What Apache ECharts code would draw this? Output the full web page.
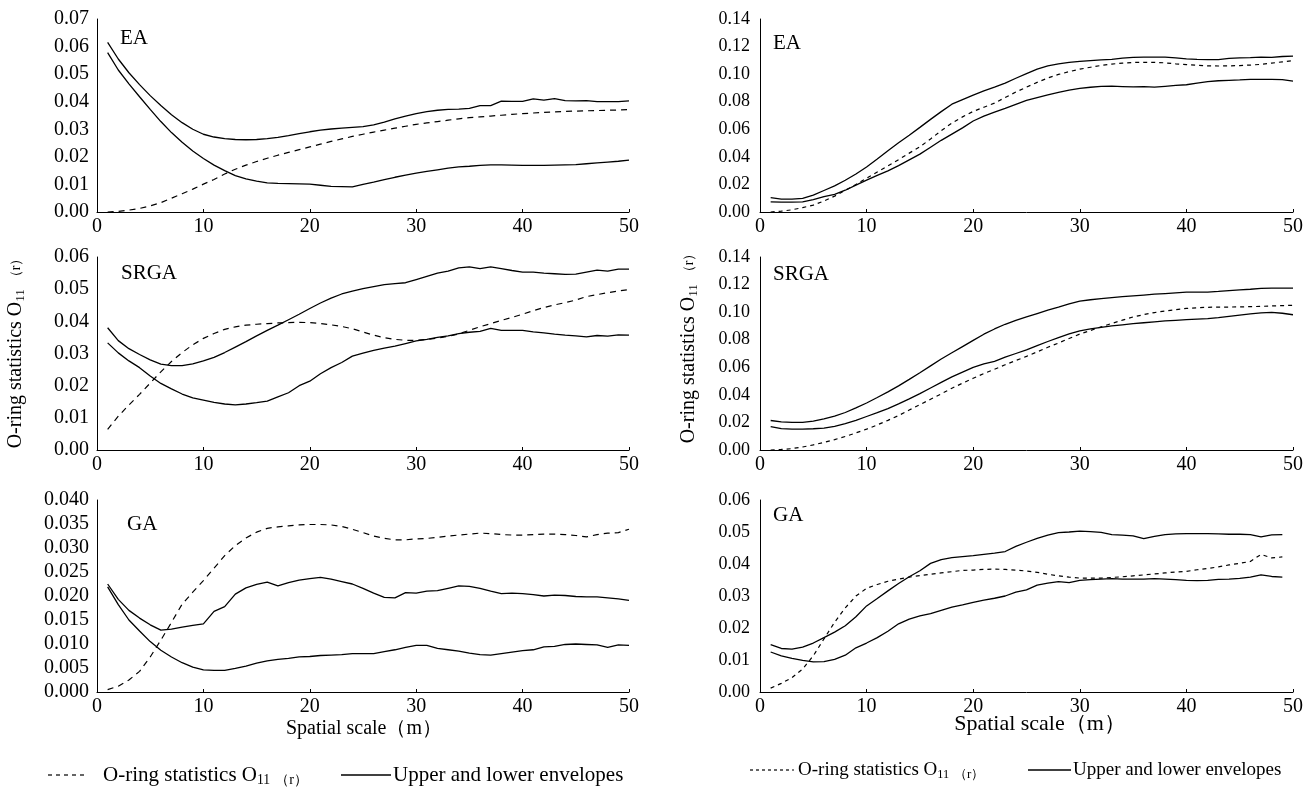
<!DOCTYPE html>
<html>
<head>
<meta charset="utf-8">
<script src="https://cdn.jsdelivr.net/npm/echarts@6/dist/echarts.min.js"></script>
<style>
html, body { margin: 0; padding: 0; background: #fff; }
#main { width: 1315px; height: 794px; }
</style>
</head>
<body>
<div id="main"></div>
<script>
// spatial scale r (m)
var scale = [1,2,3,4,5,6,7,8,9,10,11,12,13,14,15,16,17,18,19,20,21,22,23,24,25,
             26,27,28,29,30,31,32,33,34,35,36,37,38,39,40,41,42,43,44,45,46,47,48,49,50];

// left column, EA
var eaObsL = [0.0000,0.0002,0.0007,0.0013,0.0022,0.0034,0.0050,0.0066,0.0083,0.0101,0.0118,0.0138,0.0155,0.0170,0.0183,0.0195,0.0206,0.0216,0.0226,0.0236,0.0246,0.0256,0.0265,0.0274,0.0282,
              0.0290,0.0297,0.0304,0.0311,0.0318,0.0323,0.0328,0.0333,0.0338,0.0342,0.0345,0.0348,0.0351,0.0354,0.0357,0.0359,0.0361,0.0363,0.0365,0.0366,0.0367,0.0368,0.0369,0.0370,0.0372];
var eaUpL = [0.0615,0.0555,0.0505,0.0462,0.0422,0.0386,0.0353,0.0324,0.0300,0.0282,0.0272,0.0266,0.0263,0.0262,0.0263,0.0266,0.0271,0.0277,0.0284,0.0291,0.0297,0.0301,0.0304,0.0307,0.0310,
             0.0316,0.0326,0.0338,0.0348,0.0357,0.0364,0.0369,0.0372,0.0373,0.0376,0.0386,0.0386,0.0402,0.0401,0.0401,0.0410,0.0406,0.0411,0.0404,0.0403,0.0404,0.0400,0.0400,0.0400,0.0403];
var eaLowL = [0.0578,0.0515,0.0465,0.0418,0.0372,0.0328,0.0288,0.0253,0.0221,0.0194,0.0170,0.0150,0.0132,0.0120,0.0112,0.0106,0.0104,0.0103,0.0102,0.0101,0.0097,0.0093,0.0092,0.0091,0.0100,
              0.0108,0.0117,0.0126,0.0134,0.0141,0.0147,0.0153,0.0159,0.0164,0.0166,0.0169,0.0171,0.0171,0.0170,0.0169,0.0169,0.0169,0.0170,0.0171,0.0172,0.0175,0.0178,0.0181,0.0184,0.0188];

// left column, SRGA
var srgaObsL = [0.0064,0.0105,0.0140,0.0173,0.0208,0.0243,0.0275,0.0303,0.0327,0.0347,0.0362,0.0375,0.0383,0.0388,0.0391,0.0393,0.0395,0.0396,0.0397,0.0396,0.0393,0.0389,0.0384,0.0377,0.0367,
                0.0357,0.0349,0.0344,0.0341,0.0341,0.0344,0.0348,0.0353,0.0361,0.0372,0.0383,0.0393,0.0403,0.0412,0.0422,0.0433,0.0443,0.0451,0.0458,0.0466,0.0477,0.0483,0.0489,0.0494,0.0499];
var srgaUpL = [0.0380,0.0340,0.0315,0.0297,0.0280,0.0267,0.0262,0.0262,0.0268,0.0277,0.0288,0.0303,0.0320,0.0337,0.0355,0.0372,0.0388,0.0405,0.0422,0.0440,0.0457,0.0472,0.0485,0.0494,0.0502,
               0.0508,0.0514,0.0517,0.0520,0.0530,0.0540,0.0550,0.0556,0.0566,0.0569,0.0564,0.0569,0.0564,0.0558,0.0553,0.0553,0.0550,0.0548,0.0546,0.0547,0.0553,0.0559,0.0556,0.0562,0.0562];
var srgaLowL = [0.0333,0.0302,0.0277,0.0256,0.0230,0.0207,0.0190,0.0174,0.0162,0.0155,0.0148,0.0143,0.0140,0.0143,0.0147,0.0152,0.0165,0.0178,0.0200,0.0214,0.0237,0.0256,0.0272,0.0292,0.0301,
                0.0310,0.0317,0.0323,0.0331,0.0339,0.0344,0.0350,0.0355,0.0362,0.0366,0.0369,0.0378,0.0372,0.0372,0.0372,0.0367,0.0364,0.0360,0.0357,0.0355,0.0352,0.0356,0.0354,0.0358,0.0357];

// left column, GA
var gaObsL = [0.0005,0.0012,0.0025,0.0043,0.0073,0.0108,0.0145,0.0183,0.0208,0.0232,0.0258,0.0284,0.0305,0.0321,0.0333,0.0341,0.0344,0.0346,0.0348,0.0349,0.0349,0.0348,0.0345,0.0339,0.0332,
              0.0325,0.0320,0.0317,0.0317,0.0319,0.0320,0.0322,0.0325,0.0327,0.0329,0.0331,0.0330,0.0328,0.0327,0.0327,0.0328,0.0329,0.0329,0.0328,0.0326,0.0323,0.0328,0.0331,0.0332,0.0339];
var gaUpL = [0.0225,0.0193,0.0170,0.0154,0.0140,0.0129,0.0131,0.0135,0.0139,0.0142,0.0168,0.0178,0.0204,0.0217,0.0224,0.0229,0.0221,0.0228,0.0233,0.0236,0.0239,0.0235,0.0230,0.0225,0.0216,
             0.0206,0.0197,0.0196,0.0207,0.0206,0.0210,0.0211,0.0216,0.0221,0.0220,0.0216,0.0210,0.0205,0.0206,0.0205,0.0203,0.0200,0.0202,0.0201,0.0199,0.0198,0.0198,0.0196,0.0194,0.0191];
var gaLowL = [0.0219,0.0182,0.0150,0.0127,0.0105,0.0087,0.0073,0.0061,0.0052,0.0046,0.0045,0.0045,0.0049,0.0054,0.0060,0.0065,0.0068,0.0070,0.0073,0.0074,0.0076,0.0077,0.0078,0.0080,0.0080,
              0.0080,0.0084,0.0088,0.0093,0.0097,0.0097,0.0091,0.0088,0.0085,0.0081,0.0078,0.0077,0.0080,0.0083,0.0086,0.0088,0.0094,0.0095,0.0099,0.0100,0.0099,0.0098,0.0093,0.0098,0.0097];

// right column, EA
var eaObsR = [0.0000,0.0006,0.0016,0.0032,0.0050,0.0080,0.0115,0.0157,0.0200,0.0245,0.0290,0.0335,0.0380,0.0427,0.0473,0.0530,0.0590,0.0645,0.0690,0.0730,0.0760,0.0790,0.0830,0.0870,0.0906,
              0.0940,0.0972,0.0998,0.1018,0.1036,0.1050,0.1063,0.1073,0.1080,0.1085,0.1086,0.1085,0.1082,0.1075,0.1069,0.1064,0.1060,0.1059,0.1060,0.1062,0.1066,0.1071,0.1080,0.1089,0.1098];
var eaUpR = [0.0105,0.0094,0.0094,0.0099,0.0122,0.0156,0.0189,0.0230,0.0276,0.0327,0.0385,0.0445,0.0502,0.0557,0.0614,0.0672,0.0728,0.0782,0.0815,0.0848,0.0878,0.0906,0.0935,0.0970,0.1004,
             0.1036,0.1060,0.1075,0.1085,0.1092,0.1098,0.1103,0.1107,0.1116,0.1121,0.1123,0.1124,0.1123,0.1118,0.1111,0.1107,0.1105,0.1106,0.1115,0.1118,0.1120,0.1124,0.1122,0.1128,0.1130];
var eaLowR = [0.0073,0.0071,0.0071,0.0074,0.0090,0.0111,0.0128,0.0158,0.0195,0.0231,0.0265,0.0298,0.0336,0.0378,0.0420,0.0470,0.0520,0.0565,0.0610,0.0660,0.0695,0.0724,0.0752,0.0781,0.0809,
              0.0830,0.0850,0.0868,0.0884,0.0897,0.0905,0.0911,0.0913,0.0910,0.0907,0.0910,0.0906,0.0912,0.0918,0.0923,0.0935,0.0945,0.0952,0.0955,0.0958,0.0962,0.0962,0.0962,0.0960,0.0949];

// right column, SRGA
var srgaObsR = [0.0000,0.0004,0.0010,0.0022,0.0037,0.0055,0.0075,0.0098,0.0124,0.0151,0.0182,0.0215,0.0250,0.0290,0.0329,0.0368,0.0407,0.0448,0.0485,0.0520,0.0555,0.0586,0.0618,0.0649,0.0679,
                0.0712,0.0745,0.0776,0.0809,0.0841,0.0867,0.0893,0.0918,0.0942,0.0965,0.0982,0.0997,0.1008,0.1018,0.1027,0.1032,0.1035,0.1037,0.1037,0.1038,0.1040,0.1042,0.1045,0.1047,0.1050];
var srgaUpR = [0.0214,0.0204,0.0200,0.0200,0.0210,0.0225,0.0245,0.0272,0.0305,0.0341,0.0381,0.0422,0.0465,0.0512,0.0560,0.0610,0.0660,0.0705,0.0750,0.0795,0.0840,0.0878,0.0912,0.0940,0.0965,
               0.0990,0.1015,0.1037,0.1060,0.1080,0.1090,0.1098,0.1105,0.1112,0.1118,0.1124,0.1130,0.1135,0.1140,0.1145,0.1145,0.1145,0.1150,0.1156,0.1161,0.1166,0.1172,0.1174,0.1174,0.1174];
var srgaLowR = [0.0170,0.0155,0.0151,0.0151,0.0154,0.0159,0.0172,0.0192,0.0215,0.0243,0.0271,0.0300,0.0334,0.0371,0.0409,0.0450,0.0490,0.0530,0.0565,0.0600,0.0625,0.0643,0.0673,0.0700,0.0727,
                0.0757,0.0787,0.0815,0.0842,0.0864,0.0878,0.0890,0.0900,0.0908,0.0916,0.0923,0.0930,0.0936,0.0941,0.0946,0.0950,0.0953,0.0960,0.0970,0.0979,0.0988,0.0995,0.0998,0.0992,0.0981];

// right column, GA (ends at r = 49)
var gaObsR = [0.0012,0.0027,0.0045,0.0072,0.0113,0.0166,0.0218,0.0263,0.0300,0.0324,0.0336,0.0346,0.0353,0.0359,0.0364,0.0368,0.0372,0.0376,0.0380,0.0381,0.0383,0.0384,0.0383,0.0381,0.0378,
              0.0374,0.0368,0.0363,0.0359,0.0356,0.0356,0.0356,0.0358,0.0360,0.0363,0.0366,0.0369,0.0372,0.0375,0.0377,0.0382,0.0386,0.0391,0.0397,0.0402,0.0408,0.0430,0.0419,0.0422];
var gaUpR = [0.0148,0.0136,0.0134,0.0140,0.0153,0.0170,0.0187,0.0207,0.0235,0.0269,0.0292,0.0316,0.0339,0.0360,0.0379,0.0402,0.0414,0.0420,0.0423,0.0426,0.0430,0.0434,0.0439,0.0455,0.0468,
             0.0480,0.0490,0.0498,0.0500,0.0503,0.0501,0.0499,0.0492,0.0490,0.0488,0.0479,0.0486,0.0492,0.0494,0.0495,0.0495,0.0495,0.0494,0.0493,0.0493,0.0492,0.0485,0.0491,0.0492];
var gaLowR = [0.0125,0.0113,0.0105,0.0099,0.0094,0.0095,0.0102,0.0115,0.0138,0.0153,0.0170,0.0190,0.0213,0.0228,0.0238,0.0245,0.0255,0.0265,0.0272,0.0280,0.0287,0.0293,0.0300,0.0312,0.0319,
              0.0334,0.0340,0.0345,0.0342,0.0349,0.0351,0.0353,0.0354,0.0353,0.0353,0.0353,0.0354,0.0353,0.0351,0.0349,0.0348,0.0349,0.0352,0.0353,0.0355,0.0359,0.0366,0.0361,0.0359];

var FONT = '"Liberation Serif", "Times New Roman", serif';

var panels = [
    {name: 'EA',   obs: eaObsL,   up: eaUpL,   low: eaLowL,   max: 0.07, step: 0.01,  dec: 2, col: 0, row: 0},
    {name: 'SRGA', obs: srgaObsL, up: srgaUpL, low: srgaLowL, max: 0.06, step: 0.01,  dec: 2, col: 0, row: 1},
    {name: 'GA',   obs: gaObsL,   up: gaUpL,   low: gaLowL,   max: 0.04, step: 0.005, dec: 3, col: 0, row: 2},
    {name: 'EA',   obs: eaObsR,   up: eaUpR,   low: eaLowR,   max: 0.14, step: 0.02,  dec: 2, col: 1, row: 0},
    {name: 'SRGA', obs: srgaObsR, up: srgaUpR, low: srgaLowR, max: 0.14, step: 0.02,  dec: 2, col: 1, row: 1},
    {name: 'GA',   obs: gaObsR,   up: gaUpR,   low: gaLowR,   max: 0.06, step: 0.01,  dec: 2, col: 1, row: 2}
];

var colLeft = [97, 760];
var colWidth = [532, 533];
var rowTop = [19, 257, 500];
var rowHeight = [193, 193, 192];
var labelSize = [20, 18];
var dashes = [[6, 5], [4, 4]];

function pairs(ys) {
    return ys.map(function (v, i) { return [scale[i], v]; });
}

var grids = [], xAxes = [], yAxes = [], series = [], graphics = [];

panels.forEach(function (p, i) {
    grids.push({left: colLeft[p.col], top: rowTop[p.row], width: colWidth[p.col], height: rowHeight[p.row]});
    xAxes.push({
        type: 'value', gridIndex: i, min: 0, max: 50, interval: 10,
        axisLine: {lineStyle: {color: '#000', width: 1}},
        axisTick: {inside: true, length: 3, lineStyle: {color: '#000'}},
        splitLine: {show: false},
        axisLabel: {color: '#000', fontFamily: FONT, fontSize: 20, margin: 5}
    });
    yAxes.push({
        type: 'value', gridIndex: i, min: 0, max: p.max, interval: p.step,
        axisLine: {show: true, lineStyle: {color: '#000', width: 1}},
        axisTick: {show: false},
        splitLine: {show: false},
        axisLabel: {
            color: '#000', fontFamily: FONT, fontSize: labelSize[p.col], margin: p.col ? 10 : 8,
            formatter: function (v) { return v.toFixed(p.dec); }
        }
    });
    series.push({
        type: 'line', xAxisIndex: i, yAxisIndex: i, data: pairs(p.obs), showSymbol: false,
        lineStyle: {color: '#000', width: 1.2, type: dashes[p.col]}
    });
    series.push({
        type: 'line', xAxisIndex: i, yAxisIndex: i, data: pairs(p.up), showSymbol: false,
        lineStyle: {color: '#000', width: 1.3}
    });
    series.push({
        type: 'line', xAxisIndex: i, yAxisIndex: i, data: pairs(p.low), showSymbol: false,
        lineStyle: {color: '#000', width: 1.3}
    });
});

// panel names
var nameAt = [[[120, 40], [121, 275], [127, 526]], [[773, 45], [773, 276], [773, 517]]];
panels.forEach(function (p) {
    var pos = nameAt[p.col][p.row];
    graphics.push({type: 'text', left: pos[0], top: pos[1] - 12,
        style: {text: p.name, font: '21px ' + FONT, fill: '#000'}});
});

function yTitle(x, y, size) {
    return {
        type: 'text', x: x, y: y, rotation: Math.PI / 2,
        style: {
            text: 'O-ring statistics O{s|11} {r|（r）}',
            font: size + 'px ' + FONT, fill: '#000', align: 'center', verticalAlign: 'middle',
            rich: {
                s: {fontFamily: FONT, fontSize: size * 0.65, padding: [size * 0.45, 0, 0, 0]},
                r: {fontFamily: FONT, fontSize: size * 0.68}
            }
        }
    };
}
graphics.push(yTitle(16, 350, 20));
graphics.push(yTitle(689, 345, 20));

graphics.push({type: 'text', x: 364, y: 729,
    style: {text: 'Spatial scale（m）', font: '20px ' + FONT, fill: '#000', align: 'center', verticalAlign: 'middle'}});
graphics.push({type: 'text', x: 1040, y: 724,
    style: {text: 'Spatial scale（m）', font: '22px ' + FONT, fill: '#000', align: 'center', verticalAlign: 'middle'}});

function legend(y, x0, x1, tx, sx0, sx1, stx, size, dash) {
    graphics.push({type: 'line', shape: {x1: x0, y1: y, x2: x1, y2: y},
        style: {stroke: '#000', lineWidth: 1.2, lineDash: dash}});
    graphics.push({type: 'text', x: tx, y: y,
        style: {text: 'O-ring statistics O{s|11} {r|（r）}', font: size + 'px ' + FONT, fill: '#000',
            verticalAlign: 'middle',
            rich: {
                s: {fontFamily: FONT, fontSize: size * 0.65, padding: [size * 0.5, 0, 0, 0]},
                r: {fontFamily: FONT, fontSize: size * 0.68, padding: [size * 0.5, 0, 0, 0]}
            }}});
    graphics.push({type: 'line', shape: {x1: sx0, y1: y, x2: sx1, y2: y},
        style: {stroke: '#000', lineWidth: 1.3}});
    graphics.push({type: 'text', x: stx, y: y,
        style: {text: 'Upper and lower envelopes', font: size + 'px ' + FONT, fill: '#000', verticalAlign: 'middle'}});
}
legend(775, 48, 86, 103, 341, 391, 393, 21, [4, 4]);
legend(770, 750, 794, 798, 1028, 1071, 1073, 19, [3, 3]);

var chart = echarts.init(document.getElementById('main'), null, {renderer: 'canvas'});
chart.setOption({
    animation: false,
    backgroundColor: '#fff',
    grid: grids,
    xAxis: xAxes,
    yAxis: yAxes,
    series: series,
    graphic: graphics
});
</script>
</body>
</html>
